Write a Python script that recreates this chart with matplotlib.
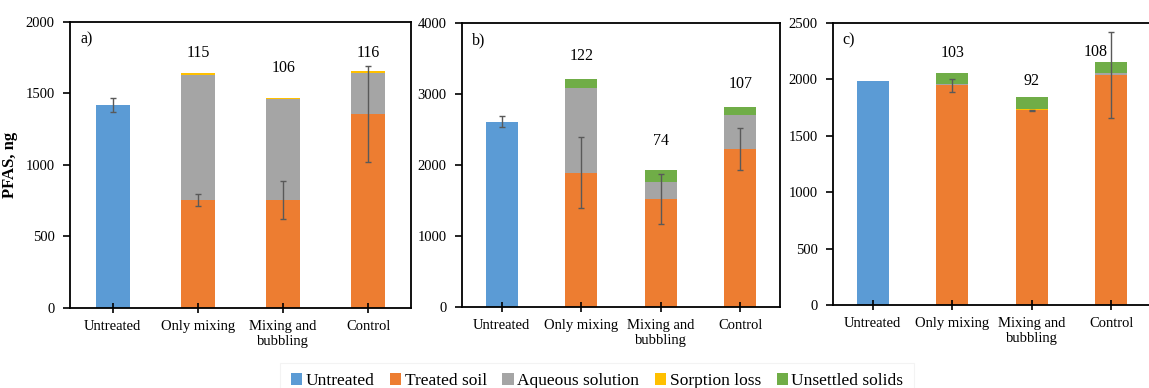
import matplotlib.pyplot as plt
from matplotlib.patches import Patch

plt.rcParams['font.family'] = ['Liberation Serif', 'DejaVu Serif']

categories = ['Untreated', 'Only mixing', 'Mixing and\nbubbling', 'Control']
series_names = ['Untreated', 'Treated soil', 'Aqueous solution', 'Sorption loss', 'Unsettled solids']
colors = ['#5B9BD5', '#ED7D31', '#A5A5A5', '#FFC000', '#70AD47']

# panel a)
a_untreated = [1420, 0, 0, 0]
a_treated = [0, 755, 755, 1359]
a_aqueous = [0, 877, 707, 287]
a_sorption = [0, 9, 9, 8]
a_unsettled = [0, 0, 0, 0]
a_err = [48, 42, 130, 336]
a_labels = ['', '115', '106', '116']
a_label_y = [0, 1780, 1680, 1780]

# panel b)
b_untreated = [2612, 0, 0, 0]
b_treated = [0, 1892, 1520, 2226]
b_aqueous = [0, 1195, 245, 480]
b_sorption = [0, 0, 0, 0]
b_unsettled = [0, 127, 169, 108]
b_err = [75, 503, 351, 290]
b_labels = ['', '122', '74', '107']
b_label_y = [0, 3529, 2343, 3139]

# panel c)
c_untreated = [1983, 0, 0, 0]
c_treated = [0, 1947, 1726, 2042]
c_aqueous = [0, 12, 0, 12]
c_sorption = [0, 0, 9, 0]
c_unsettled = [0, 95, 112, 97]
c_err = [0, 56, 5, 381]
c_labels = ['', '103', '92', '108']
c_label_y = [0, 2234, 1983, 2243]

W, H = 1149, 388
fig = plt.figure(figsize=(W / 100, H / 100), dpi=100)


def panel(rect, letter, untreated, treated, aqueous, sorption, unsettled,
          err, labels, label_y, ymax, ystep, label_dx):
    l, r, t, b = rect
    ax = fig.add_axes([l / W, 1 - b / H, (r - l) / W, (b - t) / H])
    x = list(range(len(categories)))
    w = 0.4
    ax.bar(x, untreated, w, color=colors[0], linewidth=0)
    bottom = [0] * 4
    for vals, c in zip([treated, aqueous, sorption, unsettled], colors[1:]):
        ax.bar(x, vals, w, bottom=bottom, color=c, linewidth=0)
        bottom = [bb + v for bb, v in zip(bottom, vals)]
    # error bars sit on the untreated / treated soil tops
    centers = [u + tr for u, tr in zip(untreated, treated)]
    keep = [i for i in x if err[i] > 0]
    ax.errorbar([x[i] for i in keep], [centers[i] for i in keep],
                yerr=[err[i] for i in keep], fmt='none', ecolor='#595959',
                elinewidth=1, capsize=2.5, capthick=1)
    for i, (lab, ly) in enumerate(zip(labels, label_y)):
        if lab:
            ax.text(i + label_dx[i], ly, lab, ha='center', va='center', fontsize=11.5)
    ax.text(0.03, 0.94, letter, transform=ax.transAxes, ha='left', va='center', fontsize=11.5)
    ax.set_xlim(-0.5, 3.5)
    ax.set_ylim(0, ymax)
    ax.set_yticks(range(0, ymax + 1, ystep))
    ax.set_xticks(x)
    ax.set_xticklabels(categories, linespacing=1.25)
    ax.tick_params(axis='y', direction='out', length=5, width=1.2, labelsize=10.5, pad=6)
    ax.tick_params(axis='x', direction='inout', length=7, width=1.2, labelsize=10.5, pad=5)
    for s in ax.spines.values():
        s.set_linewidth(1.3)
    return ax


ax_a = panel((70, 411, 22, 308), 'a)', a_untreated, a_treated, a_aqueous, a_sorption,
             a_unsettled, a_err, a_labels, a_label_y, 2000, 500, [0, 0, 0, 0])
ax_a.set_ylabel('PFAS, ng', fontsize=12, fontweight='bold')
ax_a.yaxis.set_label_coords(-0.152, 0.5)

panel((462, 780, 23, 307), 'b)', b_untreated, b_treated, b_aqueous, b_sorption,
      b_unsettled, b_err, b_labels, b_label_y, 4000, 1000, [0, 0, 0, 0])

panel((833, 1151, 23, 305), 'c)', c_untreated, c_treated, c_aqueous, c_sorption,
      c_unsettled, c_err, c_labels, c_label_y, 2500, 500, [0, 0, 0, -0.2])

handles = [Patch(facecolor=c, edgecolor='none') for c in colors]
leg = fig.legend(handles, series_names, loc='center', bbox_to_anchor=(597 / W, 1 - 381 / H),
                 ncol=5, fontsize=12.5, frameon=True, handlelength=0.65, handleheight=0.65,
                 handletextpad=0.2, columnspacing=0.9, borderpad=0.6, fancybox=False)
leg.get_frame().set_edgecolor('#f0f0f0')
leg.get_frame().set_linewidth(0.8)

fig.savefig('out.png', dpi=100)
